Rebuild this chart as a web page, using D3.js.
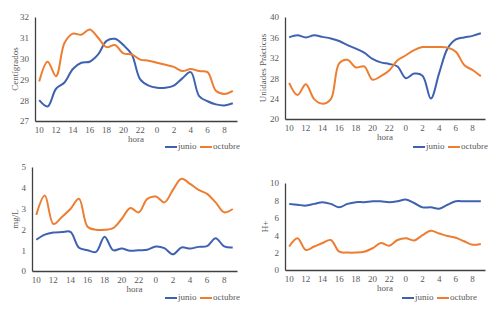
<!DOCTYPE html>
<html>
<head>
<meta charset="utf-8">
<script src="https://cdn.jsdelivr.net/npm/d3@7"></script>
<style>
  body { margin: 0; background: #fff; }
  svg { display: block; font-family: "Liberation Serif", "Times New Roman", serif; }
</style>
</head>
<body>
<div id="chart"></div>
<script>
// Hours on the x axis (every hour, labels every 2 h)
const horas = ["10","11","12","13","14","15","16","17","18","19","20","21","22","23","0","1","2","3","4","5","6","7","8","9"];

// Temperature (Centígrados)
const tempJunio = [28.0,27.7,28.55,28.85,29.5,29.8,29.85,30.2,30.85,30.95,30.65,30.2,29.0,28.7,28.6,28.6,28.7,29.05,29.35,28.2,27.95,27.8,27.75,27.85];
const tempOctubre = [28.9,29.85,29.15,30.75,31.2,31.15,31.4,31.0,30.55,30.65,30.25,30.2,29.95,29.9,29.8,29.7,29.6,29.4,29.5,29.4,29.35,28.45,28.3,28.45];

// Unidades Prácticas
const upJunio = [36.0,36.4,36.0,36.4,36.1,35.8,35.3,34.5,33.8,33.0,31.8,31.1,30.8,30.3,28.0,28.9,28.5,24.0,29.0,33.8,35.6,36.0,36.3,36.8];
const upOctubre = [27.1,24.7,26.8,23.9,23.0,23.9,30.9,31.6,30.1,30.3,27.7,28.4,29.5,31.5,32.5,33.5,34.1,34.1,34.1,34.0,33.2,30.6,29.6,28.4];

// mg/L
const mgJunio = [1.5,1.75,1.85,1.87,1.88,1.12,1.0,0.92,1.65,1.0,1.08,0.97,1.0,1.02,1.18,1.1,0.8,1.13,1.08,1.16,1.2,1.58,1.18,1.13];
const mgOctubre = [2.7,3.63,2.26,2.6,2.98,3.47,2.13,1.98,1.98,2.06,2.5,3.03,2.82,3.47,3.58,3.3,3.9,4.43,4.19,3.9,3.71,3.3,2.82,2.98];

// H+
const hJunio = [7.6,7.5,7.4,7.6,7.8,7.6,7.2,7.6,7.8,7.8,7.9,7.9,7.8,7.9,8.1,7.7,7.2,7.2,7.05,7.5,7.9,7.9,7.9,7.9];
const hOctubre = [2.7,3.65,2.3,2.7,3.1,3.45,2.1,2.0,2.0,2.1,2.5,3.1,2.8,3.45,3.65,3.4,4.0,4.5,4.2,3.9,3.7,3.3,2.9,3.0];

const W = 496, H = 309;
const blue = "#3f62b0", orange = "#ed7d31", grey = "#595959";

const svg = d3.select("#chart").append("svg")
  .attr("width", W)
  .attr("height", H);

const panels = [
  { x0: 35, x1: 237, y0: 17, y1: 121, domain: [27, 32], step: 1, label: "Centígrados", labelX: 16,
    junio: tempJunio, octubre: tempOctubre, legendX: 165, legendY: 147 },
  { x0: 285, x1: 485, y0: 17, y1: 119, domain: [20, 40], step: 4, label: "Unidades Prácticas", labelX: 264,
    junio: upJunio, octubre: upOctubre, legendX: 413, legendY: 147 },
  { x0: 32, x1: 237, y0: 167, y1: 271, domain: [0, 5], step: 1, label: "mg/L", labelX: 16,
    junio: mgJunio, octubre: mgOctubre, legendX: 165, legendY: 298 },
  { x0: 285, x1: 485, y0: 183, y1: 270, domain: [0, 10], step: 2, label: "H+", labelX: 266,
    junio: hJunio, octubre: hOctubre, legendX: 402, legendY: 298 }
];

panels.forEach(function(p) {
  const x = d3.scaleBand().domain(horas).range([p.x0, p.x1]);
  const y = d3.scaleLinear().domain(p.domain).range([p.y1, p.y0]);
  const g = svg.append("g");

  // Y axis
  const yAxis = g.append("g")
    .attr("transform", `translate(${p.x0},0)`)
    .call(d3.axisLeft(y)
      .tickValues(d3.range(p.domain[0], p.domain[1] + 0.001, p.step))
      .tickFormat(d3.format("d"))
      .tickSize(0).tickPadding(6));
  yAxis.select(".domain").attr("stroke", "#404040").attr("stroke-width", 1.3);
  yAxis.selectAll("text").attr("fill", grey).attr("font-size", 9).attr("font-family", "Liberation Serif");

  // X axis
  const xAxis = g.append("g")
    .attr("transform", `translate(0,${p.y1})`)
    .call(d3.axisBottom(x).tickValues(horas.filter((d, i) => i % 2 === 0)).tickSize(0).tickPadding(6));
  xAxis.select(".domain").attr("stroke", "#404040").attr("stroke-width", 1.3);
  xAxis.selectAll("text").attr("fill", grey).attr("font-size", 9).attr("font-family", "Liberation Serif");

  // Axis titles
  g.append("text")
    .attr("transform", `translate(${p.labelX},${(p.y0 + p.y1) / 2}) rotate(-90)`)
    .attr("text-anchor", "middle")
    .attr("dominant-baseline", "middle")
    .attr("font-size", 9)
    .attr("fill", grey)
    .text(p.label);

  g.append("text")
    .attr("x", (p.x0 + p.x1) / 2)
    .attr("y", p.y1 + 21)
    .attr("text-anchor", "middle")
    .attr("font-size", 9)
    .attr("fill", grey)
    .text("hora");

  // Lines
  const line = d3.line()
    .x((d, i) => x(horas[i]) + x.bandwidth() / 2)
    .y(d => y(d))
    .curve(d3.curveCatmullRom.alpha(0.5));

  [[p.junio, blue], [p.octubre, orange]].forEach(function(s) {
    g.append("path")
      .datum(s[0])
      .attr("d", line)
      .attr("fill", "none")
      .attr("stroke", s[1])
      .attr("stroke-width", 2);
  });

  // Legend
  const leg = g.append("g").attr("transform", `translate(${p.legendX},${p.legendY})`);
  [["junio", blue, 0], ["octubre", orange, 35]].forEach(function(l) {
    leg.append("line")
      .attr("x1", l[2]).attr("x2", l[2] + 12)
      .attr("y1", 0).attr("y2", 0)
      .attr("stroke", l[1]).attr("stroke-width", 2);
    leg.append("text")
      .attr("x", l[2] + 13)
      .attr("y", 0)
      .attr("dominant-baseline", "middle")
      .attr("font-size", 9)
      .attr("fill", grey)
      .text(l[0]);
  });
});
</script>
</body>
</html>
